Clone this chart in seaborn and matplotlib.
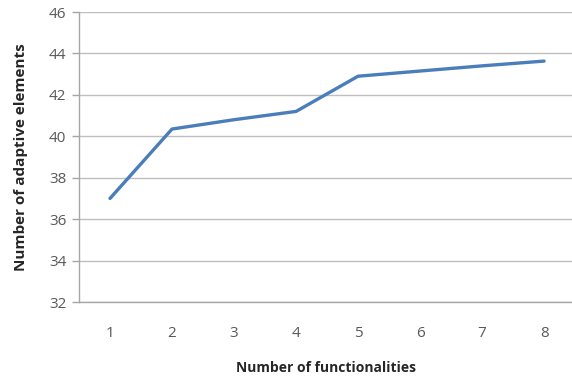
import matplotlib
matplotlib.use("Agg")
import matplotlib.pyplot as plt
import seaborn as sns
import pandas as pd

functionalities = [1, 2, 3, 4, 5, 6, 7, 8]
adaptive_elements = [37.0, 40.35, 40.8, 41.2, 42.9, 43.15, 43.4, 43.63]
y_ticks = [32, 34, 36, 38, 40, 42, 44, 46]

sns.set_theme(style="white")
plt.rcParams['font.family'] = ['Open Sans', 'DejaVu Sans']

df = pd.DataFrame({"x": functionalities, "y": adaptive_elements})

fig = plt.figure(figsize=(5.72, 3.81), dpi=100)
ax = fig.add_axes([79/572, 79/381, (572-79)/572, 290/381])
sns.lineplot(data=df, x="x", y="y", ax=ax, color="#4A7EBB", linewidth=2.4)

ax.set_xlim(0.5, 8.45)
ax.set_ylim(32, 46)
ax.set_yticks(y_ticks)
ax.set_xticks(functionalities)
ax.yaxis.grid(True, color="#BFBFBF", linewidth=1.0)
ax.xaxis.grid(False)
for s in ["top", "right"]:
    ax.spines[s].set_visible(False)
for s in ["left", "bottom"]:
    ax.spines[s].set_color("#A6A6A6")
    ax.spines[s].set_linewidth(1.0)
ax.tick_params(axis="y", which="major", left=True, length=5, width=1, color="#A6A6A6",
               labelsize=11, labelcolor="#595959", pad=4)
ax.tick_params(axis="x", which="major", bottom=False, labelsize=11, labelcolor="#595959", pad=11)
ax.set_xlabel("Number of functionalities", fontsize=10, fontweight="bold", color="#262626", labelpad=15)
ax.set_ylabel("Number of adaptive elements", fontsize=11, fontweight="bold", color="#262626", labelpad=15)

fig.savefig("out.png", dpi=100)
